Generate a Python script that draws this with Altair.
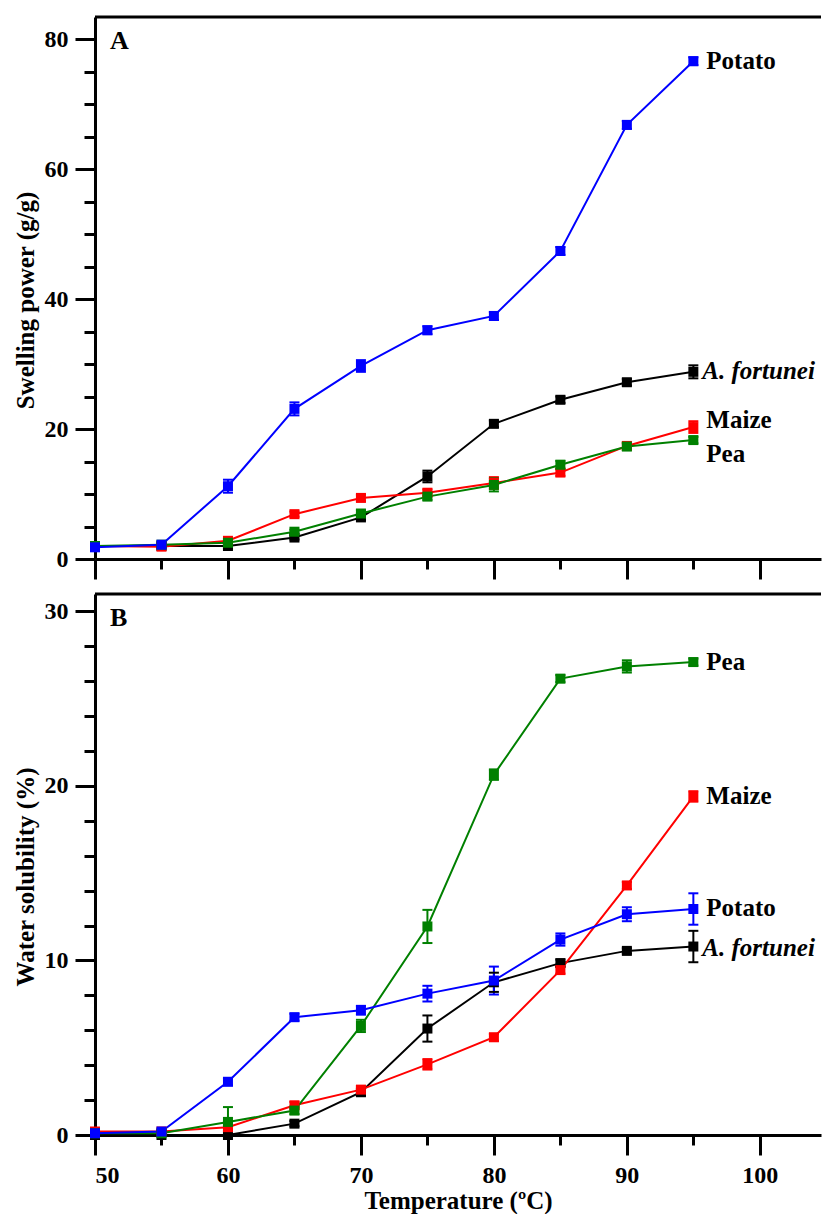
import altair as alt
import pandas as pd

temps = [50, 55, 60, 65, 70, 75, 80, 85, 90, 95]
series_names = ["A. fortunei", "Maize", "Pea", "Potato"]
series_colors = ["#000000", "#ff0000", "#008000", "#0000ff"]

# Panel A: swelling power (g/g)
sp_fortunei = [2.0, 2.0, 2.0, 3.3, 6.4, 12.7, 20.8, 24.5, 27.2, 28.8]
sp_maize = [2.0, 1.9, 2.8, 6.9, 9.4, 10.2, 11.7, 13.3, 17.4, 20.3]
sp_pea = [2.0, 2.2, 2.5, 4.2, 7.0, 9.6, 11.4, 14.5, 17.3, 18.3]
sp_potato = [1.8, 2.2, 11.2, 23.1, 29.7, 35.2, 37.4, 47.4, 66.8, 76.6]
sp_fortunei_err = [0.2, 0.2, 0.3, 0.3, 0.4, 0.9, 0.5, 0.5, 0.5, 1.0]
sp_maize_err = [0.2, 0.3, 0.3, 0.4, 0.5, 0.5, 0.9, 0.5, 0.5, 0.9]
sp_pea_err = [0.3, 0.2, 0.3, 0.3, 0.5, 0.5, 1.0, 0.6, 0.5, 0.5]
sp_potato_err = [0.3, 0.3, 1.0, 1.0, 0.9, 0.6, 0.6, 0.6, 0.6, 0.6]
sp_label_y = [28.9, 21.4, 16.2, 76.6]

# Panel B: water solubility (%)
ws_fortunei = [0.0, 0.0, 0.0, 0.65, 2.45, 6.1, 8.75, 9.85, 10.55, 10.8]
ws_maize = [0.2, 0.2, 0.45, 1.7, 2.6, 4.05, 5.6, 9.45, 14.3, 19.4]
ws_pea = [0.1, 0.1, 0.75, 1.4, 6.25, 11.95, 20.65, 26.15, 26.85, 27.1]
ws_potato = [0.1, 0.2, 3.05, 6.75, 7.15, 8.1, 8.85, 11.2, 12.65, 12.95]
ws_fortunei_err = [0.05, 0.05, 0.05, 0.15, 0.2, 0.75, 0.55, 0.2, 0.15, 0.9]
ws_maize_err = [0.1, 0.1, 0.1, 0.2, 0.2, 0.3, 0.2, 0.2, 0.2, 0.3]
ws_pea_err = [0.05, 0.05, 0.85, 0.2, 0.35, 0.95, 0.3, 0.2, 0.35, 0.2]
ws_potato_err = [0.1, 0.1, 0.2, 0.2, 0.25, 0.45, 0.8, 0.35, 0.4, 0.9]
ws_label_y = [10.7, 19.4, 27.1, 13.0]

x_major = [50, 60, 70, 80, 90, 100]
x_minor = [55, 65, 75, 85, 95]
sp_major = [0, 20, 40, 60, 80]
sp_minor = [5, 10, 15, 25, 30, 35, 45, 50, 55, 65, 70, 75]
ws_major = [0, 10, 20, 30]
ws_minor = [2, 4, 6, 8, 12, 14, 16, 18, 22, 24, 26, 28]

FONT = "Liberation Serif"
W = 726
X_MAX = 104.6


def long_df(vals, errs):
    rows = []
    for name, v, e in zip(series_names, vals, errs):
        for t, a, b in zip(temps, v, e):
            rows.append({"T": t, "v": a, "lo": a - b, "hi": a + b, "series": name})
    return pd.DataFrame(rows)


def panel(vals, errs, label_y, ymax, major, minor, ytitle, letter, height, bottom_labels):
    df = long_df(vals, errs)
    lab = pd.DataFrame({"series": series_names, "T": [95] * 4, "ly": label_y})
    one = pd.DataFrame({"t": [letter]})
    xs = alt.Scale(domain=[50, X_MAX], nice=False, zero=False)
    ys = alt.Scale(domain=[0, ymax], nice=False, zero=False)
    color = alt.Color("series:N", scale=alt.Scale(domain=series_names, range=series_colors), legend=None)
    X = alt.X("T:Q", scale=xs, axis=None)

    if bottom_labels:
        major_x = alt.Axis(values=x_major, tickSize=20, orient="bottom", grid=False,
                           title="Temperature (ºC)", labelPadding=8, titlePadding=1,
                           format="d")
    else:
        major_x = alt.Axis(values=x_major, tickSize=20, orient="bottom", grid=False,
                           labels=False, title=None)
    minor_x = alt.Axis(values=x_minor, tickSize=10, orient="bottom", grid=False,
                       labels=False, title=None, domain=False)
    major_y = alt.Axis(values=major, tickSize=20, orient="left", grid=False,
                       title=ytitle, labelPadding=7, titlePadding=6, format="d",
                       titleY=height / 2 + 12)
    minor_y = alt.Axis(values=minor, tickSize=11, orient="left", grid=False,
                       labels=False, title=None, domain=False)

    base = alt.Chart(df)
    ax_major = base.mark_point(opacity=0).encode(
        x=alt.X("T:Q", scale=xs, axis=major_x), y=alt.Y("v:Q", scale=ys, axis=major_y))
    ax_minor = base.mark_point(opacity=0).encode(
        x=alt.X("T:Q", scale=xs, axis=minor_x), y=alt.Y("v:Q", scale=ys, axis=minor_y))
    lines = base.mark_line(strokeWidth=2).encode(
        x=X, y=alt.Y("v:Q", scale=ys, axis=None), color=color, detail="series:N")
    err = base.mark_rule(strokeWidth=2).encode(
        x=X, y=alt.Y("lo:Q", scale=ys, axis=None), y2="hi:Q", color=color)
    cap_hi = base.mark_rule(strokeWidth=2, xOffset=-5, x2Offset=5).encode(
        x=X, x2="T:Q", y=alt.Y("hi:Q", scale=ys, axis=None), color=color)
    cap_lo = base.mark_rule(strokeWidth=2, xOffset=-5, x2Offset=5).encode(
        x=X, x2="T:Q", y=alt.Y("lo:Q", scale=ys, axis=None), color=color)
    pts = base.mark_square(size=100, opacity=1).encode(
        x=X, y=alt.Y("v:Q", scale=ys, axis=None), color=color)
    labs_n = alt.Chart(lab).transform_filter(alt.datum.series != "A. fortunei").mark_text(
        align="left", baseline="middle", dx=13, font=FONT, fontSize=25,
        fontWeight="bold", color="black").encode(
        x=X, y=alt.Y("ly:Q", scale=ys, axis=None), text="series:N")
    labs_i = alt.Chart(lab).transform_filter(alt.datum.series == "A. fortunei").mark_text(
        align="left", baseline="middle", dx=9, font=FONT, fontSize=25,
        fontWeight="bold", fontStyle="italic", color="black").encode(
        x=X, y=alt.Y("ly:Q", scale=ys, axis=None), text="series:N")
    letter_t = alt.Chart(one).mark_text(
        align="left", baseline="alphabetic", font=FONT, fontSize=26,
        fontWeight="bold", color="black").encode(
        x=alt.value(15), y=alt.value(32), text="t:N")
    border = alt.Chart(one).mark_rule(color="black", strokeWidth=3).encode(
        x=alt.value(0), x2=alt.value(W), y=alt.value(0))

    return alt.layer(
        ax_major, ax_minor, lines, err, cap_hi, cap_lo, pts, labs_n, labs_i, letter_t, border
    ).resolve_axis(x="independent", y="independent").properties(width=W, height=height)


pA = panel([sp_fortunei, sp_maize, sp_pea, sp_potato],
           [sp_fortunei_err, sp_maize_err, sp_pea_err, sp_potato_err],
           sp_label_y, 83.4, sp_major, sp_minor, "Swelling power (g/g)", "A", 542, False)
pB = panel([ws_fortunei, ws_maize, ws_pea, ws_potato],
           [ws_fortunei_err, ws_maize_err, ws_pea_err, ws_potato_err],
           ws_label_y, 31.0, ws_major, ws_minor, "Water solubility (%)", "B", 541, True)

chart = alt.vconcat(pA, pB, spacing=11).properties(
    padding={"left": 12, "top": 15, "right": 0, "bottom": 0}
).configure_view(stroke="transparent").configure_axis(
    domainColor="black", domainWidth=3, tickColor="black", tickWidth=3,
    labelFont=FONT, labelFontSize=24, labelFontWeight="bold", labelColor="black",
    titleFont=FONT, titleFontSize=25, titleFontWeight="bold", titleColor="black",
)

chart.save("out.html", embed_options={"renderer": "svg", "actions": False})
